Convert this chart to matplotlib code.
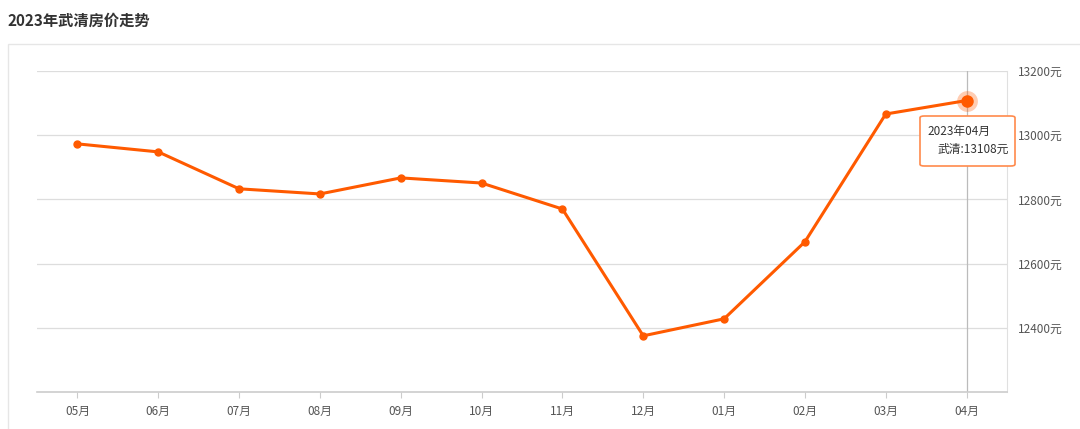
import matplotlib
matplotlib.use("Agg")
import matplotlib.pyplot as plt
from matplotlib.patches import Rectangle, FancyBboxPatch

plt.rcParams['font.family'] = ['Noto Sans CJK SC', 'DejaVu Sans']

months = ["05月", "06月", "07月", "08月", "09月", "10月", "11月", "12月", "01月", "02月", "03月", "04月"]
prices = [12973, 12948, 12833, 12817, 12867, 12851, 12770, 12375, 12428, 12668, 13066, 13108]
yticks = [12400, 12600, 12800, 13000, 13200]
title = "2023年武清房价走势"
tip_title = "2023年04月"
tip_label = "武清:13108元"

W, H = 1080, 429
fig = plt.figure(figsize=(W / 100, H / 100), dpi=100)
fig.patch.set_facecolor("white")

# outer container border
fig.patches.append(Rectangle((8 / W, -0.05), 1.2, 1 - 44 / H + 0.05, transform=fig.transFigure,
                             fill=False, edgecolor="#e6e6e6", linewidth=1))
fig.text(8 / W, 1 - 21 / H, title, fontsize=11, fontweight="bold", color="#333333",
         va="center", ha="left")

ax = fig.add_axes([37 / W, 1 - 392 / H, (1007 - 37) / W, (392 - 71) / H])
x = list(range(len(months)))
ax.set_xlim(-0.5, len(months) - 0.5)
ax.set_ylim(12200, 13200)

for s in ["top", "left"]:
    ax.spines[s].set_visible(False)
ax.spines["right"].set_color("#e0e0e0")
ax.spines["bottom"].set_color("#cccccc")
ax.spines["bottom"].set_linewidth(1.2)

ax.set_yticks(yticks)
ax.yaxis.tick_right()
ax.set_yticklabels([f"{v}元" for v in yticks], fontsize=8.5, color="#555555")
ax.tick_params(axis="y", length=0, pad=8)
ax.set_xticks(x)
ax.set_xticklabels(months, fontsize=8.5, color="#555555")
ax.tick_params(axis="x", length=4, color="#cccccc", pad=5)
ax.grid(axis="y", color="#dddddd", linewidth=0.9)
ax.set_axisbelow(True)

# axis pointer
ax.axvline(x[-1], color="#bbbbbb", linewidth=0.9, zorder=1)

orange = "#ff5a00"
ax.plot(x, prices, color=orange, linewidth=2.2, marker="o", markersize=5, zorder=3)
ax.plot(x[-1], prices[-1], "o", color=orange, markersize=15, alpha=0.3, zorder=4, markeredgewidth=0)
ax.plot(x[-1], prices[-1], "o", color=orange, markersize=9, zorder=5, markeredgewidth=0)

# tooltip
tx0, ty0 = 920 / W, 1 - 166 / H
tw, th = (1015 - 920) / W, (166 - 116) / H
box = FancyBboxPatch((tx0, ty0), tw, th, boxstyle="round,pad=0,rounding_size=0.004",
                     transform=fig.transFigure, facecolor="white", edgecolor="#ff8a4c",
                     linewidth=1.2, zorder=10)
fig.patches.append(box)
fig.text(927 / W, 1 - 131 / H, tip_title, fontsize=8.5, color="#333333", va="center", ha="left", zorder=11)
fig.text(1009 / W, 1 - 149 / H, tip_label, fontsize=8.5, color="#333333", va="center", ha="right", zorder=11)

fig.savefig("out.png", dpi=100, facecolor="white")
